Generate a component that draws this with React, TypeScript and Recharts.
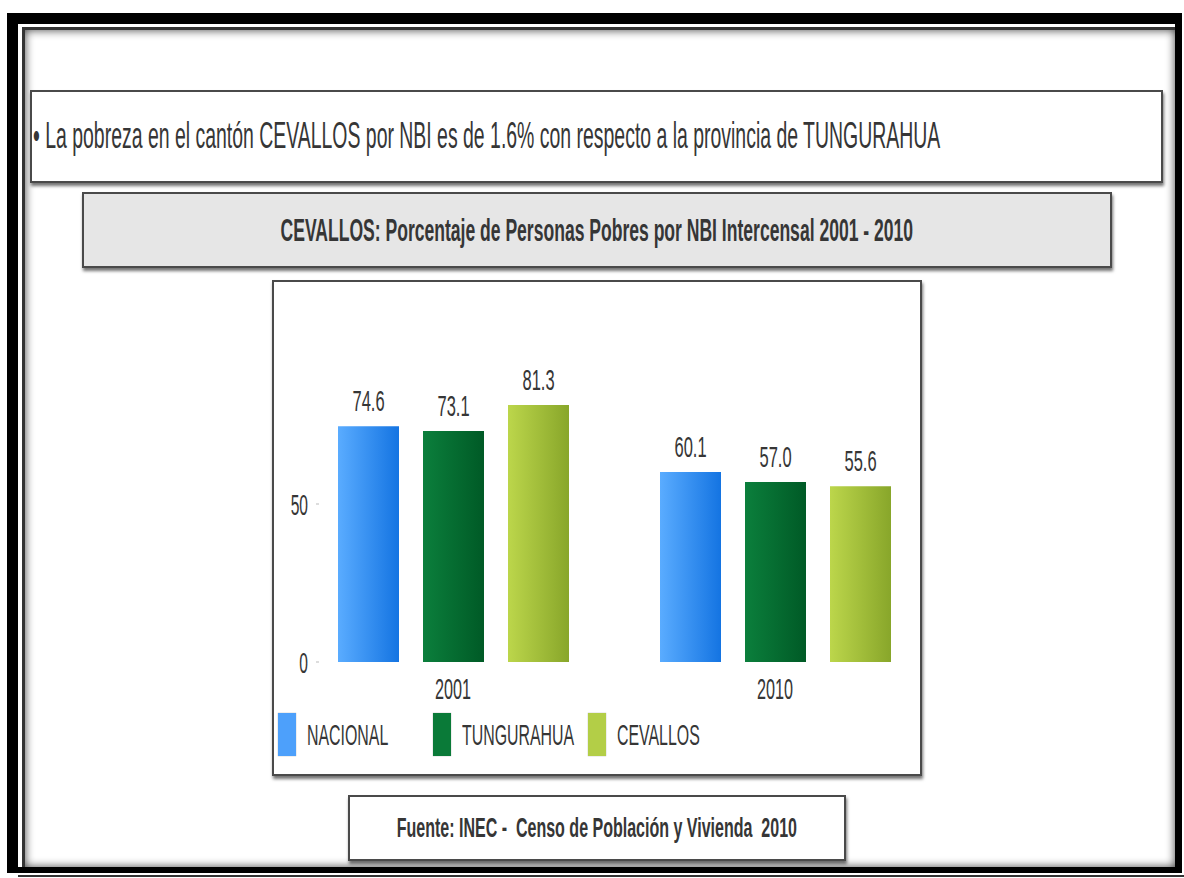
import React from 'react';
import { BarChart, Bar, XAxis, YAxis, Legend, LabelList } from 'recharts';

const years = ['2001', '2010'];
const nacional = [74.6, 60.1];
const tungurahua = [73.1, 57.0];
const cevallos = [81.3, 55.6];
const seriesNames = ['NACIONAL', 'TUNGURAHUA', 'CEVALLOS'];
const legendColors = ['#4da0fb', '#0a7a38', '#b3ce47'];
const yTicks = [0, 50];

const bulletText = '• La pobreza en el cantón CEVALLOS por NBI es de 1.6% con respecto a la provincia de TUNGURAHUA';
const titleText = 'CEVALLOS: Porcentaje de Personas Pobres por NBI Intercensal 2001 - 2010';
const sourceText = 'Fuente: INEC -  Censo de Población y Vivienda  2010';

const data = years.map((year, i) => ({
  year,
  NACIONAL: nacional[i],
  TUNGURAHUA: tungurahua[i],
  CEVALLOS: cevallos[i],
}));

const FONT = '"Liberation Sans", Arial, sans-serif';
const TEXT = '#363636';
const SX = 0.55;

const boxStyle: React.CSSProperties = {
  position: 'absolute',
  boxSizing: 'border-box',
  border: '2px solid #4a4a4a',
  boxShadow: '1px 3px 3px rgba(0,0,0,0.55)',
  background: '#fff',
};

function Squeezed({ text, size, bold, origin, scale = SX }: { text: string; size: number; bold?: boolean; origin: string; scale?: number }) {
  return (
    <span
      style={{
        display: 'inline-block',
        whiteSpace: 'pre',
        fontFamily: FONT,
        fontSize: size,
        fontWeight: bold ? 700 : 400,
        color: TEXT,
        lineHeight: 1,
        transform: `scaleX(${scale})`,
        transformOrigin: origin,
      }}
    >
      {text}
    </span>
  );
}

const YTick = (props: any) => {
  const { x, y, payload } = props;
  return (
    <g>
      <text
        transform={`translate(${x + 24},${y}) scale(0.52,1)`}
        textAnchor="end"
        dy="0.36em"
        fontFamily={FONT}
        fontSize={30}
        fill={TEXT}
      >
        {payload.value}
      </text>
      <line x1={x + 32} x2={x + 35} y1={y} y2={y} stroke="#bbb" />
    </g>
  );
};

const XTick = (props: any) => {
  const { x, y, payload } = props;
  return (
    <text
      transform={`translate(${x},${y + 29}) scale(0.54,1)`}
      textAnchor="middle"
      fontFamily={FONT}
      fontSize={30}
      fill={TEXT}
    >
      {payload.value}
    </text>
  );
};

const ValueLabel = (props: any) => {
  const { x, y, width, value } = props;
  return (
    <text
      transform={`translate(${x + width / 2},${y - 15}) scale(0.55,1)`}
      textAnchor="middle"
      fontFamily={FONT}
      fontSize={30}
      fill={TEXT}
    >
      {Number(value).toFixed(1)}
    </text>
  );
};

// legend drawn in series order, one tall swatch per series
const renderLegend = () => (
  <div style={{ display: 'flex' }}>
    {seriesNames.map((name, idx) => (
      <div key={name} style={{ display: 'flex', alignItems: 'center', width: 155, flexShrink: 0 }}>
        <div
          style={{
            width: 18,
            height: 43,
            flexShrink: 0,
            background: legendColors[idx],
            boxShadow: '0 0 1px rgba(0,0,0,0.4)',
          }}
        />
        <div style={{ marginLeft: 11, width: 120, flexShrink: 0 }}>
          <Squeezed text={name} size={30} origin="left center" scale={0.53} />
        </div>
      </div>
    ))}
  </div>
);

export default function App() {
  return (
    <div style={{ position: 'absolute', left: 0, top: 0, width: 1184, height: 878, background: '#fff', overflow: 'hidden' }}>
      {/* outer frame */}
      <div style={{ position: 'absolute', left: 7, top: 13, width: 1175, height: 860, background: '#000' }} />
      <div style={{ position: 'absolute', left: 18, top: 24, width: 1157, height: 843, background: '#fff' }} />
      <div
        style={{
          position: 'absolute',
          left: 22,
          top: 27,
          width: 1153,
          height: 840,
          boxSizing: 'border-box',
          borderTop: '3px solid #333',
          borderLeft: '3px solid #333',
          boxShadow: 'inset 0 0 10px rgba(0,0,0,0.75)',
        }}
      />
      <div style={{ position: 'absolute', left: 18, top: 875, width: 1166, height: 2, background: '#333' }} />

      {/* bullet box */}
      <div style={{ ...boxStyle, left: 30, top: 90, width: 1133, height: 93, display: 'flex', alignItems: 'center' }}>
        <div style={{ marginLeft: 1, marginTop: -2 }}>
          <Squeezed text={bulletText} size={36} origin="left center" scale={0.54} />
        </div>
      </div>

      {/* title box */}
      <div
        style={{
          ...boxStyle,
          left: 82,
          top: 192,
          width: 1030,
          height: 76,
          background: '#e6e6e6',
          display: 'flex',
          alignItems: 'center',
          justifyContent: 'center',
        }}
      >
        <Squeezed text={titleText} size={31} bold origin="center center" scale={0.566} />
      </div>

      {/* chart box */}
      <div style={{ ...boxStyle, left: 272, top: 280, width: 650, height: 496 }} />

      {/* source box */}
      <div
        style={{
          ...boxStyle,
          left: 348,
          top: 795,
          width: 498,
          height: 66,
          display: 'flex',
          alignItems: 'center',
          justifyContent: 'center',
        }}
      >
        <Squeezed text={sourceText} size={28} bold origin="center center" scale={0.572} />
      </div>

      <div style={{ position: 'absolute', left: 0, top: 0 }}>
        <BarChart
          width={1184}
          height={878}
          data={data}
          margin={{ top: 346, right: 248, left: 252, bottom: 122 }}
          barSize={61}
          barGap={24}
        >
          <defs>
            <linearGradient id="gNac" x1="0" y1="0" x2="1" y2="0">
              <stop offset="0%" stopColor="#5aacff" />
              <stop offset="100%" stopColor="#1474e2" />
            </linearGradient>
            <linearGradient id="gTun" x1="0" y1="0" x2="1" y2="0">
              <stop offset="0%" stopColor="#0b7f3c" />
              <stop offset="100%" stopColor="#005a26" />
            </linearGradient>
            <linearGradient id="gCev" x1="0" y1="0" x2="1" y2="0">
              <stop offset="0%" stopColor="#bcd64b" />
              <stop offset="100%" stopColor="#88a62a" />
            </linearGradient>
          </defs>
          <XAxis dataKey="year" axisLine={false} tickLine={false} height={51} tick={<XTick />} />
          <YAxis
            domain={[0, 100]}
            ticks={yTicks}
            width={40}
            axisLine={false}
            tickLine={false}
            tick={<YTick />}
          />
          <Legend verticalAlign="bottom" align="left" wrapperStyle={{ left: 278, top: 713, width: 520 }} content={renderLegend} />
          <Bar dataKey="NACIONAL" fill="url(#gNac)" isAnimationActive={false}>
            <LabelList dataKey="NACIONAL" content={<ValueLabel />} />
          </Bar>
          <Bar dataKey="TUNGURAHUA" fill="url(#gTun)" isAnimationActive={false}>
            <LabelList dataKey="TUNGURAHUA" content={<ValueLabel />} />
          </Bar>
          <Bar dataKey="CEVALLOS" fill="url(#gCev)" isAnimationActive={false}>
            <LabelList dataKey="CEVALLOS" content={<ValueLabel />} />
          </Bar>
        </BarChart>
      </div>
    </div>
  );
}
